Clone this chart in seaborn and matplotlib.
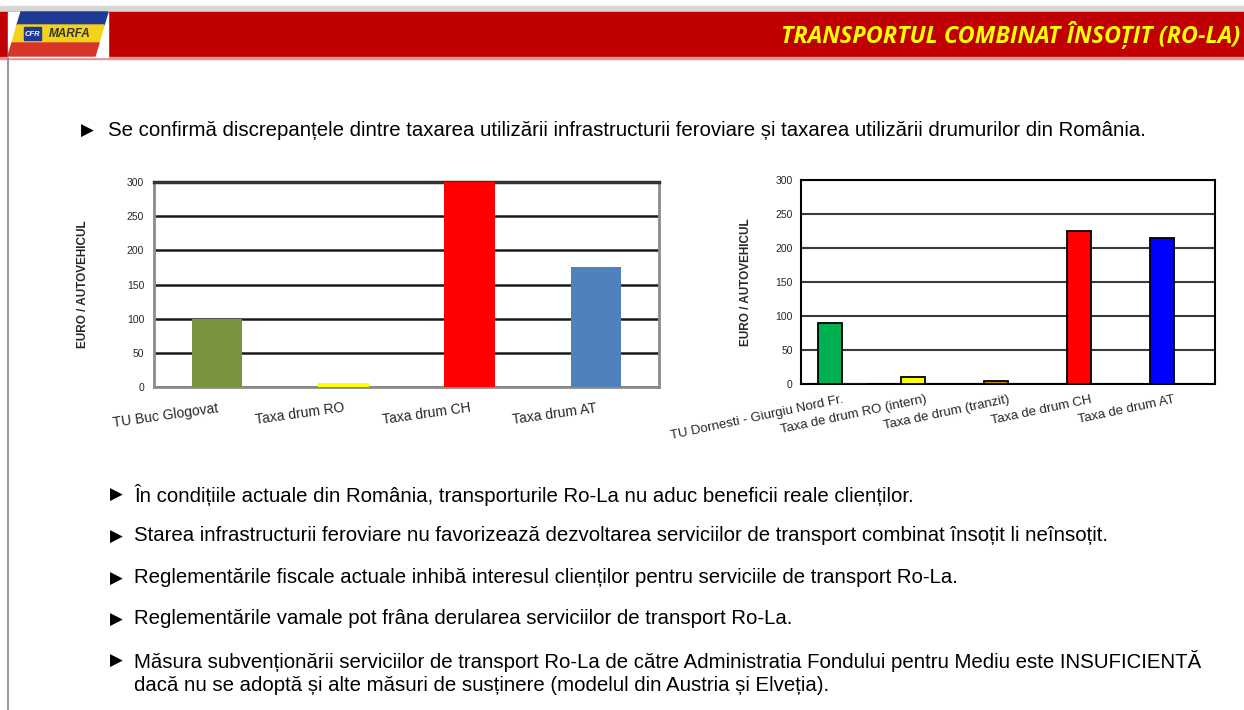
import numpy as np
import pandas as pd
import matplotlib
matplotlib.use("Agg")
import matplotlib.pyplot as plt
from matplotlib.patches import Rectangle, Polygon
import seaborn as sns

# left chart data
left_cats = ["TU Buc Glogovat", "Taxa drum RO", "Taxa drum CH", "Taxa drum AT"]
left_vals = [100, 6, 300, 175]
left_colors = ["#77933C", "#FFFF00", "#FF0000", "#4F81BD"]

# right chart data (two series, second one only nearly zero in first category)
right_cats = ["TU Dornesti - Giurgiu Nord Fr.", "Taxa de drum RO (intern)",
              "Taxa de drum (tranzit)", "Taxa de drum CH", "Taxa de drum AT"]
right_vals_a = [90, 10, 5, 225, 215]
right_vals_b = [0.6, np.nan, np.nan, np.nan, np.nan]
right_colors = ["#00B050", "#FFFF00", "#C09000", "#FF0000", "#0000FF"]

y_ticks = [0, 50, 100, 150, 200, 250, 300]
y_label = "EURO / AUTOVEHICUL"

title = "TRANSPORTUL COMBINAT ÎNSOȚIT (RO-LA)"
intro = "Se confirmă discrepanțele dintre taxarea utilizării infrastructurii feroviare și taxarea utilizării drumurilor din România."
bullets = [
    "În condițiile actuale din România, transporturile Ro-La nu aduc beneficii reale clienților.",
    "Starea infrastructurii feroviare nu favorizează dezvoltarea serviciilor de transport combinat însoțit li neînsoțit.",
    "Reglementările fiscale actuale inhibă interesul clienților pentru serviciile de transport Ro-La.",
    "Reglementările vamale pot frâna derularea serviciilor de transport Ro-La.",
    "Măsura subvenționării serviciilor de transport Ro-La de către Administratia Fondului pentru Mediu este INSUFICIENTĂ\n"
    "dacă nu se adoptă și alte măsuri de susținere (modelul din Austria și Elveția).",
]

sns.set_style("white")
plt.rcParams["font.family"] = ["Liberation Sans", "DejaVu Sans"]

W, H = 1244, 710
fig = plt.figure(figsize=(W / 100, H / 100), dpi=100)

# slide background in pixel coordinates
bg = fig.add_axes([0, 0, 1, 1], zorder=0)
bg.set_xlim(0, W)
bg.set_ylim(H, 0)
bg.axis("off")
bg.add_patch(Rectangle((0, 6), W, 6, color="#D6D6D6"))
bg.add_patch(Rectangle((0, 12), W, 45, color="#C00000"))
bg.add_patch(Rectangle((0, 57), W, 2, color="#E89090"))
bg.plot([8, 8], [58, H], color="#9A9A9A", lw=1.5)

# logo
bg.add_patch(Rectangle((8, 12), 100, 45, color="white"))
bg.add_patch(Polygon([(21, 12), (108, 12), (104, 25), (17, 25)], color="#1F3A93"))
bg.add_patch(Polygon([(17, 25), (104, 25), (99, 43), (12, 43)], color="#F2D21B"))
bg.add_patch(Polygon([(12, 43), (99, 43), (95, 56), (8, 56)], color="#D8342A"))
bg.add_patch(Rectangle((24, 27), 17, 13, color="#1F3A93"))
bg.text(32, 34, "CFR", color="white", fontsize=5.5, ha="center", va="center",
        fontweight="bold", style="italic")
bg.text(70, 34, "MARFA", color="#333333", fontsize=8.5, ha="center", va="center",
        fontweight="bold", style="italic")

bg.text(1240, 35, title, ha="right", va="center", color="#FFFF00",
        fontsize=16.8, fontweight="bold", style="italic",
        family=["Open Sans", "DejaVu Sans"])

# intro bullet
bg.text(81, 131, "▶", fontsize=12, va="center", color="black", family=["DejaVu Sans"])
bg.text(108, 131, intro, fontsize=14.7, va="center", color="black")

# lower bullets
for yb, txt in zip([494, 536, 578, 619, 660], bullets):
    bg.text(110, yb + 1, "▶", fontsize=12, va="center", color="black", family=["DejaVu Sans"])
    bg.text(134, yb - 10, txt, fontsize=14.7, va="top", color="black", linespacing=1.25)


def frac(x0, y0, x1, y1):
    return [x0 / W, 1 - y1 / H, (x1 - x0) / W, (y1 - y0) / H]


# ---- left chart ----
axl = fig.add_axes(frac(154, 182, 659, 387), zorder=2)
dfl = pd.DataFrame({"cat": left_cats, "val": left_vals})
sns.barplot(data=dfl, x="cat", y="val", hue="cat", palette=left_colors,
            width=0.4, saturation=1, linewidth=0, legend=False, ax=axl, zorder=3)
axl.set_ylim(0, 300)
axl.set_xlim(-0.5, len(left_cats) - 0.5)
axl.set_yticks(y_ticks)
axl.yaxis.grid(True, color="#1A1A1A", lw=1.8)
axl.set_axisbelow(True)
for s in ["left", "right", "bottom"]:
    axl.spines[s].set_color("#8C8C8C")
    axl.spines[s].set_linewidth(2)
axl.spines["top"].set_color("#333333")
axl.spines["top"].set_linewidth(2.5)
axl.set_xticks(np.arange(len(left_cats)) + 0.5, minor=True)
axl.tick_params(axis="x", which="minor", length=4, color="#8C8C8C", width=1.2, direction="out")
axl.tick_params(axis="x", which="major", length=0, pad=10)
axl.tick_params(axis="y", length=5, color="#8C8C8C", width=1.2, labelsize=7.5, pad=2)
axl.set_xticks(np.arange(len(left_cats)))
axl.set_xticklabels(left_cats, rotation=8, ha="right", rotation_mode="anchor", fontsize=10)
axl.set_xlabel("")
axl.set_ylabel(y_label, fontsize=8.5, fontweight="bold")
axl.yaxis.set_label_coords(-0.128, 0.5)

# ---- right chart ----
axr = fig.add_axes(frac(801, 180, 1215, 384), zorder=2)
dfr = pd.DataFrame({
    "cat": right_cats * 2,
    "serie": ["a"] * len(right_cats) + ["b"] * len(right_cats),
    "val": right_vals_a + right_vals_b,
})
sns.barplot(data=dfr, x="cat", y="val", hue="serie", dodge=True, width=0.58,
            saturation=1, legend=False, ax=axr, zorder=3)
for patch, col in zip(axr.containers[0], right_colors):
    patch.set_facecolor(col)
    patch.set_edgecolor("black")
    patch.set_linewidth(1.3)
for patch in axr.containers[1]:
    patch.set_facecolor("#A0504D")
    patch.set_edgecolor("#B06060")
    patch.set_linewidth(1.0)
axr.set_ylim(0, 300)
axr.set_xlim(-0.5, len(right_cats) - 0.5)
axr.set_yticks(y_ticks)
axr.yaxis.grid(True, color="#3A3A3A", lw=1.5)
axr.set_axisbelow(True)
for s in axr.spines.values():
    s.set_color("black")
    s.set_linewidth(1.5)
axr.set_xticks(np.arange(len(right_cats)) + 0.5, minor=True)
axr.tick_params(axis="x", which="minor", length=4, color="black", width=1.2, direction="out")
axr.tick_params(axis="x", which="major", length=0, pad=7)
axr.tick_params(axis="y", length=4, color="black", width=1.2, labelsize=7.5, pad=2)
axr.set_xticks(np.arange(len(right_cats)))
axr.set_xticklabels(right_cats, rotation=12, ha="right", rotation_mode="anchor", fontsize=9.5)
axr.set_xlabel("")
axr.set_ylabel(y_label, fontsize=8.5, fontweight="bold")
axr.yaxis.set_label_coords(-0.118, 0.5)

fig.savefig("out.png", dpi=100)
